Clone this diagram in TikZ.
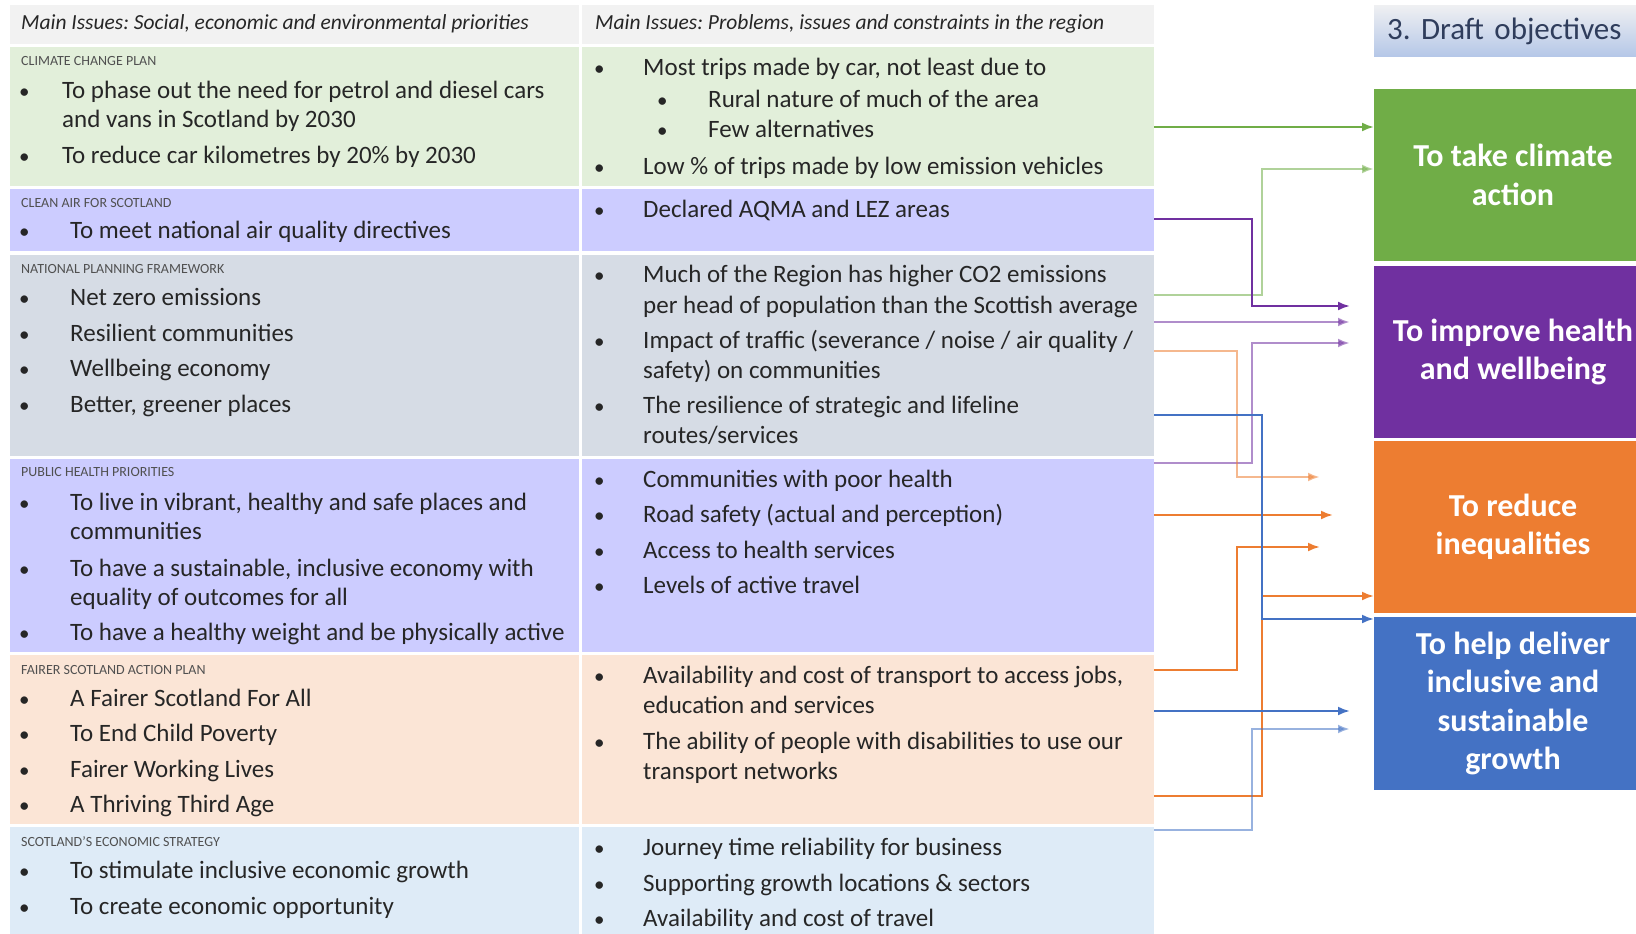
\documentclass[tikz,border=0pt]{standalone}
\usepackage{fontspec}
\setmainfont{Carlito}
\usetikzlibrary{arrows.meta}
\definecolor{verde}{HTML}{70AD47}
\definecolor{morado}{HTML}{7030A0}
\definecolor{naranja}{HTML}{ED7D31}
\definecolor{azul}{HTML}{4472C4}
\definecolor{fondoverde}{HTML}{E2EFDA}
\definecolor{fondolila}{HTML}{CCCCFF}
\definecolor{fondogris}{HTML}{D6DCE5}
\definecolor{fondonaranja}{HTML}{FBE5D6}
\definecolor{fondoazul}{HTML}{DEEBF7}
\definecolor{cabecera}{HTML}{F2F2F2}
\definecolor{texto}{HTML}{262626}
\definecolor{gris}{HTML}{505050}
\definecolor{titulo}{HTML}{2F3D5C}
\frenchspacing
\tikzset{
	celda/.style={inner sep=0pt, outer sep=0pt, draw=none},
	cabeza/.style={anchor=mid west, yshift=-3pt, inner sep=0pt, font=\fontsize{21.5}{25}\selectfont\itshape, text=texto},
	rotulo/.style={anchor=mid west, yshift=-3pt, inner sep=0pt, font=\fontsize{14}{16}\selectfont, text=gris},
	linea/.style={anchor=mid west, yshift=-5pt, inner sep=0pt, font=\fontsize{25}{29}\selectfont, text=texto},
	bala/.style={linea, font=\fontsize{21}{25}\selectfont},
	objetivo/.style={inner sep=0pt, outer sep=0pt, minimum width=278pt, minimum height=172pt, align=center, text=white, font=\fontsize{32}{38.5}\selectfont\bfseries},
	borrador/.style={anchor=west, inner xsep=13pt, inner ysep=0pt, minimum height=51pt, text width=252pt, align=left, top color=titulo!8, bottom color=azul!40, text=titulo, font=\fontsize{31}{36}\selectfont},
	con/.style={line width=2.2pt, ->},
	suave/.style={line width=2.8pt, opacity=0.55}
}
\newcommand{\celda}[6]{
	\node[celda, fill=#6, minimum width={#4-#2}, minimum height={#5-#3}] (#1) at ({(#2+#4)/2},{(#3+#5)/2}) {};
	}
\newcommand{\vineta}[5]{
	\node[bala] (#1p) at (#2,#4) {•};
	\node[linea] (#1) at (#3,#4) {#5};
	}
\newcommand{\sigue}[4]{
	\node[linea] (#1) at (#2,#3) {#4};
	}

\begin{document}
\begin{tikzpicture}[x=1pt,y=-1pt,>={Latex[length=12pt,width=9pt]}]
	\clip (0,0) rectangle (1636,934);
	\celda{l0}{10}{5}{579}{44}{cabecera}
	\celda{r0}{582}{5}{1154}{44}{cabecera}
	\celda{l1}{10}{47}{579}{186}{fondoverde}
	\celda{r1}{582}{47}{1154}{186}{fondoverde}
	\celda{l2}{10}{189}{579}{251}{fondolila}
	\celda{r2}{582}{189}{1154}{251}{fondolila}
	\celda{l3}{10}{255}{579}{456}{fondogris}
	\celda{r3}{582}{255}{1154}{456}{fondogris}
	\celda{l4}{10}{459}{579}{652}{fondolila}
	\celda{r4}{582}{459}{1154}{652}{fondolila}
	\celda{l5}{10}{655}{579}{824}{fondonaranja}
	\celda{r5}{582}{655}{1154}{824}{fondonaranja}
	\celda{l6}{10}{827}{579}{940}{fondoazul}
	\celda{r6}{582}{827}{1154}{940}{fondoazul}

	\node[cabeza] (h1) at (21,24) {Main Issues: Social, economic and environmental priorities};
	\node[cabeza] (h2) at (595,24) {Main Issues: Problems, issues and constraints in the region};

	\node[rotulo] (t1) at (21,60.5) {CLIMATE CHANGE PLAN};
	\vineta{a1}{19}{62}{90.8}{To phase out the need for petrol and diesel cars}
	\sigue{a1b}{62}{120}{and vans in Scotland by 2030}
	\vineta{a2}{19}{62}{156.5}{To reduce car kilometres by 20\% by 2030}
	\node[rotulo] (t2) at (21,202.4) {CLEAN AIR FOR SCOTLAND};
	\vineta{b1}{19}{70}{231.6}{To meet national air quality directives}
	\node[rotulo] (t3) at (21,268) {NATIONAL PLANNING FRAMEWORK};
	\vineta{c1}{19}{70}{298.4}{Net zero emissions}
	\vineta{c2}{19}{70}{333.9}{Resilient communities}
	\vineta{c3}{19}{70}{369.4}{Wellbeing economy}
	\vineta{c4}{19}{70}{404.8}{Better, greener places}
	\node[rotulo] (t4) at (21,471.6) {PUBLIC HEALTH PRIORITIES};
	\vineta{d1}{19}{70}{502.9}{To live in vibrant, healthy and safe places and}
	\sigue{d1b}{70}{532.1}{communities}
	\vineta{d2}{19}{70}{568.7}{To have a sustainable, inclusive economy with}
	\sigue{d2b}{70}{597.9}{equality of outcomes for all}
	\vineta{d3}{19}{70}{633.3}{To have a healthy weight and be physically active}
	\node[rotulo] (t5) at (21,668.8) {FAIRER SCOTLAND ACTION PLAN};
	\vineta{e1}{19}{70}{699.1}{A Fairer Scotland For All}
	\vineta{e2}{19}{70}{734.6}{To End Child Poverty}
	\vineta{e3}{19}{70}{770}{Fairer Working Lives}
	\vineta{e4}{19}{70}{805.5}{A Thriving Third Age}
	\node[rotulo] (t6) at (21,841) {SCOTLAND’S ECONOMIC STRATEGY};
	\vineta{f1}{19}{70}{871.2}{To stimulate inclusive economic growth}
	\vineta{f2}{19}{70}{906.7}{To create economic opportunity}

	\vineta{m1}{594}{643}{67.8}{Most trips made by car, not least due to}
	\vineta{m2}{657}{708}{100.2}{Rural nature of much of the area}
	\vineta{m3}{657}{708}{130.4}{Few alternatives}
	\vineta{m4}{594}{643}{166.9}{Low \% of trips made by low emission vehicles}
	\vineta{n1}{594}{643}{209.7}{Declared AQMA and LEZ areas}
	\vineta{o1}{594}{643}{275.5}{Much of the Region has higher CO2 emissions}
	\sigue{o1b}{643}{305.7}{per head of population than the Scottish average}
	\vineta{o2}{594}{643}{341.2}{Impact of traffic (severance / noise / air quality /}
	\sigue{o2b}{643}{371.5}{safety) on communities}
	\vineta{o3}{594}{643}{405.9}{The resilience of strategic and lifeline}
	\sigue{o3b}{643}{436.1}{routes/services}
	\vineta{u1}{594}{643}{480}{Communities with poor health}
	\vineta{u2}{594}{643}{515.4}{Road safety (actual and perception)}
	\vineta{u3}{594}{643}{550.9}{Access to health services}
	\vineta{u4}{594}{643}{586.4}{Levels of active travel}
	\vineta{q1}{594}{643}{676.1}{Availability and cost of transport to access jobs,}
	\sigue{q1b}{643}{706.4}{education and services}
	\vineta{q2}{594}{643}{741.9}{The ability of people with disabilities to use our}
	\sigue{q2b}{643}{772.1}{transport networks}
	\vineta{s1}{594}{643}{848.3}{Journey time reliability for business}
	\vineta{s2}{594}{643}{883.8}{Supporting growth locations \& sectors}
	\vineta{s3}{594}{643}{919.2}{Availability and cost of travel}

	\node[borrador] (borr) at (1374,31.5) {\raisebox{-2pt}{3. Draft objectives}};
	\node[objetivo, fill=verde] (clima) at (1513,175) {To take climate\\action};
	\node[objetivo, fill=morado] (salud) at (1513,352) {To improve health\\and wellbeing};
	\node[objetivo, fill=naranja] (desig) at (1513,527) {To reduce\\inequalities};
	\node[objetivo, fill=azul, minimum height=173pt] (crec) at (1513,703.5) {To help deliver\\inclusive and\\sustainable\\growth};

	\coordinate (ps1) at (1350,306);
	\coordinate (ps2) at (1350,322);
	\coordinate (ps3) at (1350,343);
	\coordinate (pd1) at (1320,477);
	\coordinate (pd2) at (1333,515);
	\coordinate (pd3) at (1320,547);
	\coordinate (pc1) at (1350,711);
	\coordinate (pc2) at (1350,729);

	\draw[con, verde] (r1.east |- 0,127) -- (clima.west |- 0,127);
	\draw[con, verde, suave] (r3.east |- 0,295) -| (1262,169) -- (clima.west |- 0,169);
	\draw[con, morado] (r2.east |- 0,219) -| (1252,306) -- (ps1);
	\draw[con, morado, suave] (r3.east |- 0,322) -- (ps2);
	\draw[con, morado, suave] (r4.east |- 0,463) -| (1252,343) -- (ps3);
	\draw[con, naranja, suave] (r3.east |- 0,351) -| (1237,477) -- (pd1);
	\draw[con, naranja] (r4.east |- 0,515) -- (pd2);
	\draw[con, naranja] (r5.east |- 0,670) -| (1237,547) -- (pd3);
	\draw[con, naranja] (r5.east |- 0,796) -| (1262,596) -- (desig.west |- 0,596);
	\draw[con, azul] (r3.east |- 0,415) -| (1262,619) -- (crec.west |- 0,619);
	\draw[con, azul] (r5.east |- 0,711) -- (pc1);
	\draw[con, azul, suave] (r6.east |- 0,830) -| (1252,729) -- (pc2);
\end{tikzpicture}
\end{document}
